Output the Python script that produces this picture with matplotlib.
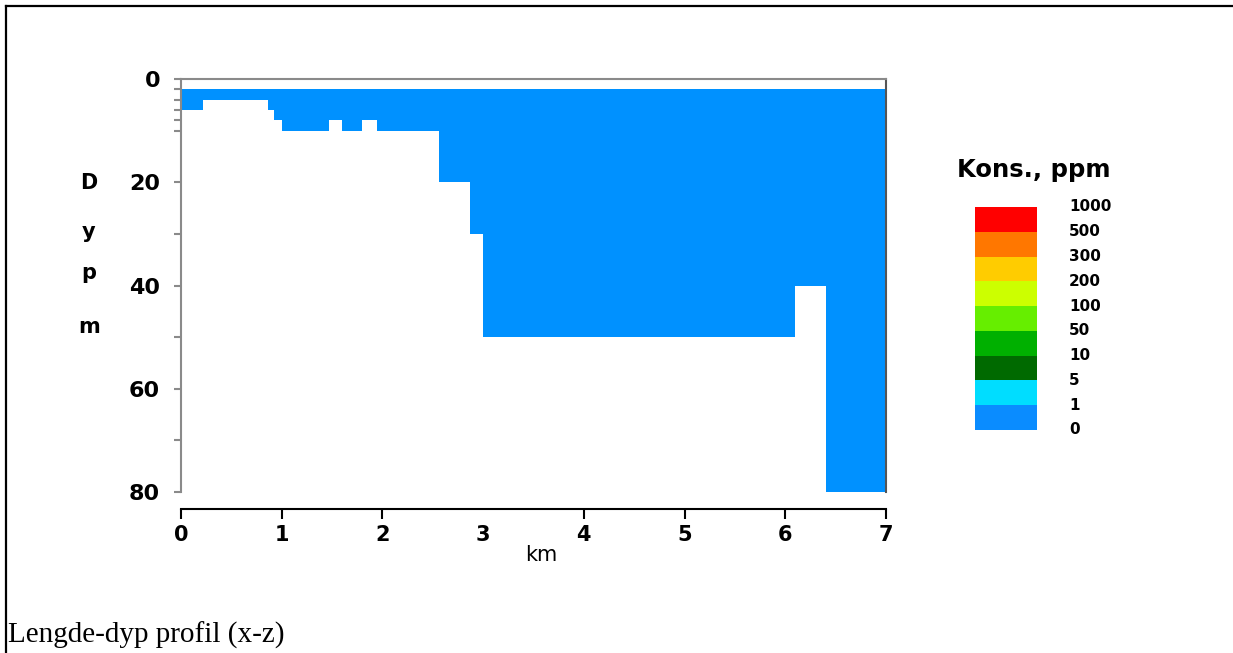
import matplotlib.pyplot as plt
import matplotlib.patches as patches

# = = = = = = = = = = =
# profile of the basin: step edges (km) and bottom depth (m) for each step
x_edges = [0, 0.22, 0.86, 0.92, 1.0, 1.47, 1.6, 1.8, 1.95, 2.56, 2.87, 3.0, 6.1, 6.4, 7.0]
bottom_depth = [6, 4, 6, 8, 10, 8, 10, 8, 10, 20, 30, 50, 40, 80]
surface_depth = 2

x_ticks = [0, 1, 2, 3, 4, 5, 6, 7]
y_major = [0, 20, 40, 60, 80]
y_minor = [2, 4, 6, 8, 10, 30, 50, 70]

# legend classes, top to bottom
conc_labels = ['1000', '500', '300', '200', '100', '50', '10', '5', '1', '0']
conc_colors = ['#ff0000', '#ff7700', '#ffcc00', '#ccff00', '#66ee00',
               '#00b000', '#006a00', '#00ddff', '#0a8cff']

water_color = '#0091ff'

# = = = = = = = = = = =

W, H = 1233, 653
fig = plt.figure(figsize=(W / 100, H / 100), dpi=100)

def fx(px):
    return px / W

def fy(py):
    return 1 - py / H

# table cell border
fig.add_artist(plt.Line2D([fx(5.5), fx(5.5)], [fy(5.5), 0], color='black', lw=1.6))
fig.add_artist(plt.Line2D([fx(5.5), 1], [fy(5.5), fy(5.5)], color='black', lw=1.6))

ax = fig.add_axes([fx(181), fy(492), fx(886) - fx(181), fy(79) - fy(492)])

yb = bottom_depth + [bottom_depth[-1]]
ax.fill_between(x_edges, surface_depth, yb, step='post', color=water_color, lw=0)

ax.set_xlim(0, 7)
ax.set_ylim(80, 0)

for s in ['top', 'left']:
    ax.spines[s].set_color('#8a8a8a')
    ax.spines[s].set_linewidth(1.5)
ax.spines['right'].set_color('#555555')
ax.spines['right'].set_linewidth(1.5)
ax.spines['bottom'].set_position(('outward', 12))
ax.spines['bottom'].set_color('black')
ax.spines['bottom'].set_linewidth(1.5)

ax.set_yticks(y_major)
ax.set_yticks(y_minor, minor=True)
ax.set_yticklabels([str(v) for v in y_major], fontsize=16, fontweight='bold')
ax.tick_params(axis='y', which='both', color='#8a8a8a', length=5, width=1.5, pad=10)

ax.set_xticks(x_ticks)
ax.set_xticklabels([str(v) for v in x_ticks], fontsize=15, fontweight='bold')
ax.tick_params(axis='x', color='black', length=7, width=1.5, pad=5)
ax.xaxis.get_major_ticks()[3].tick1line.set_visible(False)

fig.text(fx(541), fy(555), 'km', fontsize=15, ha='center', va='center')

for letter, ypx in zip(['D', 'y', 'p', 'm'], [183, 232, 273, 327]):
    fig.text(fx(89), fy(ypx), letter, fontsize=15, fontweight='bold',
             ha='center', va='center')

# concentration legend
cax = fig.add_axes([fx(975), fy(430), fx(1037) - fx(975), fy(207) - fy(430)])
n = len(conc_colors)
for i, c in enumerate(conc_colors):
    cax.add_patch(patches.Rectangle((0, n - 1 - i), 1, 1, color=c, lw=0))
cax.set_xlim(0, 1)
cax.set_ylim(0, n)
cax.axis('off')
for i, lab in enumerate(conc_labels):
    fig.text(fx(1069), fy(207 + i * (430 - 207) / n), lab, fontsize=11,
             fontweight='bold', ha='left', va='center')
fig.text(fx(1034), fy(170), 'Kons., ppm', fontsize=17.5, fontweight='bold',
         ha='center', va='center')

fig.text(fx(8), fy(635), 'Lengde-dyp profil (x-z)', fontsize=21,
         family='Liberation Serif', ha='left', va='center')

fig.savefig('out.png', dpi=100)
